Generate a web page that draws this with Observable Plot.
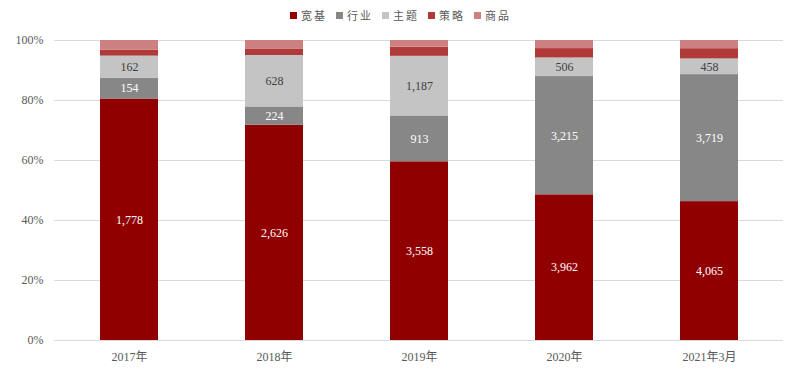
<!DOCTYPE html>
<html><head><meta charset="utf-8">
<script src="https://cdn.jsdelivr.net/npm/d3@7"></script>
<script src="https://cdn.jsdelivr.net/npm/@observablehq/plot@0.6"></script>
<style>
body{margin:0;background:#fff;font-family:"Liberation Serif","Noto Sans CJK SC",serif;}
#legend{height:30px;display:flex;justify-content:center;align-items:center;padding-left:10px;box-sizing:border-box;font-family:"Noto Sans CJK SC",serif;font-size:11px;color:#595959;letter-spacing:2px;}
#legend .item{width:46px;display:flex;align-items:center;}
#legend .sw{width:7px;height:7px;margin-right:4px;display:inline-block;}
</style></head><body>
<div id="legend"></div><div id="chart"></div>
<script>
const categories = ["2017年","2018年","2019年","2020年","2021年3月"];
const seriesNames = ["宽基","行业","主题","策略","商品"];
const broad = [1778,2626,3558,3962,4065];
const industry = [154,224,913,3215,3719];
const theme = [162,628,1187,506,458];
const strategy = [44,80,180,255,300];
const commodity = [71,103,135,220,240];
const colors = ["#900000","#878787","#C4C4C4","#B03A3A","#CC8080"];
const yTicks = [0,0.2,0.4,0.6,0.8,1];
const whiteLabeled = ["宽基","行业"];
const darkLabeled = ["主题"];

const seriesValues = [broad, industry, theme, strategy, commodity];
const data = [];
categories.forEach((c, i) => {
  seriesNames.forEach((s, j) => data.push({cat: c, series: s, value: seriesValues[j][i]}));
});

const legend = document.getElementById("legend");
seriesNames.forEach((s, j) => {
  const it = document.createElement("div"); it.className = "item";
  const sw = document.createElement("span"); sw.className = "sw"; sw.style.background = colors[j];
  const t = document.createElement("span"); t.textContent = s;
  it.appendChild(sw); it.appendChild(t); legend.appendChild(it);
});

const fmt = d3.format(",");
const stackOpts = {x: "cat", y: "value", z: "series", order: seriesNames, offset: "normalize"};

const chart = Plot.plot({
  width: 800, height: 357,
  marginTop: 10, marginBottom: 47, marginLeft: 54, marginRight: 17,
  style: {fontFamily: "'Liberation Serif', 'Noto Sans CJK SC', serif", fontSize: "12px", color: "#595959", background: "#fff"},
  x: {domain: categories, paddingInner: 0.6, paddingOuter: 0.3, label: null, tickSize: 0, tickPadding: 12},
  y: {domain: [0, 1], ticks: yTicks, tickFormat: d3.format(".0%"), label: null, tickSize: 0, tickPadding: 11},
  color: {domain: seriesNames, range: colors},
  marks: [
    Plot.ruleY(yTicks, {stroke: "#d9d9d9", strokeWidth: 1}),
    Plot.barY(data, Plot.stackY({...stackOpts, fill: "series"})),
    Plot.text(data, Plot.stackY({...stackOpts, text: d => whiteLabeled.includes(d.series) ? fmt(d.value) : null, fill: "white", fontSize: 12})),
    Plot.text(data, Plot.stackY({...stackOpts, text: d => darkLabeled.includes(d.series) ? fmt(d.value) : null, fill: "#404040", fontSize: 12}))
  ]
});
document.getElementById("chart").appendChild(chart);
</script>
</body></html>
